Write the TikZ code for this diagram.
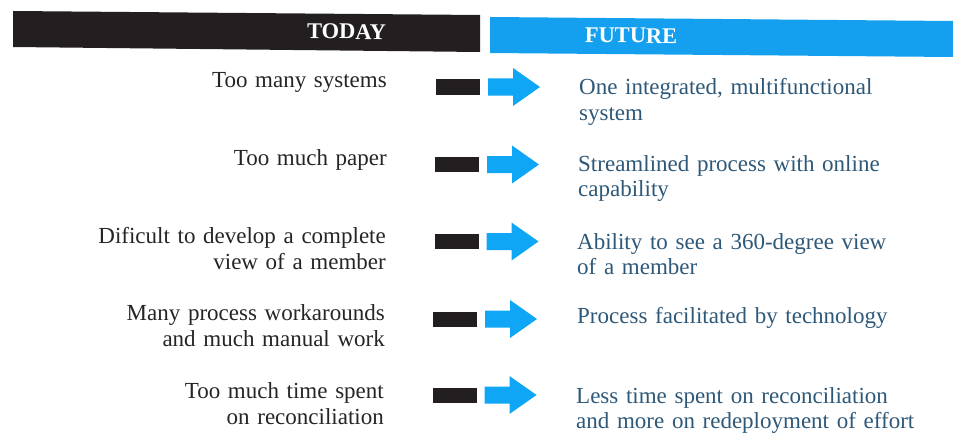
\documentclass[tikz,border=0pt]{standalone}
\usepackage{fontspec}
\setmainfont{Liberation Serif}
\definecolor{barblack}{HTML}{231F20}
\definecolor{headblue}{HTML}{14A0EE}
\definecolor{arrowblue}{HTML}{0EA6F5}
\definecolor{leftink}{HTML}{252525}
\definecolor{rightink}{HTML}{2E5878}
\begin{document}
\begin{tikzpicture}[x=1pt,y=-1pt,
  headtext/.style={inner sep=0pt,text=white,font=\fontsize{22.5}{24}\selectfont\bfseries,anchor=base},
  todaytext/.style={inner sep=0pt,text=leftink,text width=320pt,align=right,anchor=base east,
    font=\fontsize{23}{26.5}\selectfont},
  futuretext/.style={inner sep=0pt,text=rightink,text width=370pt,align=left,anchor=base west,
    font=\fontsize{23}{25}\selectfont},
  markrow/.pic={
    \fill[barblack] (0,-7.5) rectangle (44,7.5);
    \fill[arrowblue] (52,-8.5) -- (77,-8.5) -- (77,-19) -- (104,0) -- (77,19)
      -- (77,8.5) -- (52,8.5) -- cycle;
  }]
\useasboundingbox (0,0) rectangle (953,436);

% header bands
\fill[barblack] (13,11) -- (480,15) -- (480,52) -- (13,47) -- cycle;
\fill[headblue] (490,17) -- (953,21) -- (953,57) -- (490,53) -- cycle;
\node[headtext,rotate=-0.5] (today) at (346.5,39) {TODAY};
\node[headtext,rotate=-0.5] (future) at (631,43) {FUTURE};

% bar + arrow markers
\pic at (436,87) {markrow};
\pic at (435,164.5) {markrow};
\pic at (434.5,241.5) {markrow};
\pic at (433,319) {markrow};
\pic at (432.5,395) {markrow};

% current state
\node[todaytext] (t1) at (387,88) {Too many systems};
\node[todaytext] (t2) at (387,165) {Too much paper};
\node[todaytext] (t3) at (386,243) {Dificult to develop a complete\\view of a member};
\node[todaytext] (t4) at (385,320) {Many process workarounds\\and much manual work};
\node[todaytext] (t5) at (384,398) {Too much time spent\\on reconciliation};

% future state
\node[futuretext] (f1) at (579,95) {One integrated, multifunctional\\system};
\node[futuretext] (f2) at (578,171) {Streamlined process with online\\capability};
\node[futuretext] (f3) at (577,249) {Ability to see a 360-degree view\\of a member};
\node[futuretext] (f4) at (577,323) {Process facilitated by technology};
\node[futuretext] (f5) at (576,403) {Less time spent on reconciliation\\and more on redeployment of effort};
\end{tikzpicture}
\end{document}
